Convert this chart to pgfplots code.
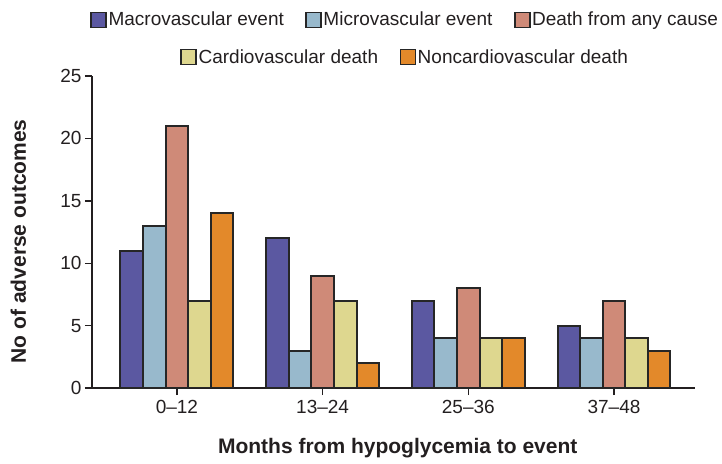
\documentclass[border=0pt]{standalone}
\usepackage{pgfplots}
\pgfplotsset{compat=1.18}
\usepackage{fontspec}
\setmainfont{Liberation Sans}
\definecolor{cmacro}{HTML}{5B58A1}
\definecolor{cmicro}{HTML}{98B9CC}
\definecolor{cdeath}{HTML}{CF8A78}
\definecolor{ccardio}{HTML}{DED78F}
\definecolor{cnon}{HTML}{E3892A}
\definecolor{cedge}{HTML}{262626}
\definecolor{ctext}{HTML}{231F20}
\pgfplotsset{
  common/.style={
    width=603bp, height=312bp, scale only axis,
    xmin=-0.583, xmax=3.556, ymin=0, ymax=25,
    ybar, bar width=0.155,
    legend image code/.code={\draw[#1, line width=1.6bp] (0bp,-7.5bp) rectangle (15bp,7.5bp);},
    legend style={draw=none, fill=none, font=\fontsize{19bp}{22bp}\selectfont, text=ctext,
      /tikz/every even column/.append style={column sep=20bp},
      /tikz/every odd column/.append style={column sep=0bp},
      nodes={inner sep=1.5bp}},
  },
  barst/.style={draw=cedge, line width=2bp, fill=#1},
}
\begin{document}
\begin{tikzpicture}
\path[use as bounding box] (-92bp,-76bp) rectangle (630bp,388bp);
\begin{axis}[common,
  axis x line*=bottom, axis y line*=left,
  axis line style={-, line width=1.4bp, color=ctext},
  tick style={line width=1.4bp, color=ctext},
  tick align=outside, major tick length=7bp,
  xtick={0,1,2,3}, xticklabels={0--12,13--24,25--36,37--48},
  ytick={0,5,10,15,20,25},
  /pgf/number format/assume math mode=true,
  ticklabel style={font=\fontsize{19bp}{22bp}\selectfont, text=ctext},
  xticklabel style={yshift=-2bp},
  xlabel={Months from hypoglycemia to event},
  ylabel={No of adverse outcomes},
  label style={font=\bfseries\fontsize{21bp}{25bp}\selectfont, text=ctext},
  xlabel style={at={(axis description cs:0.507,-0.192)}, anchor=center},
  ylabel style={at={(axis description cs:-0.122,0.47)}, anchor=center},
  legend columns=3,
  legend style={at={(axis description cs:0.519,1.18)}, anchor=center},
]
\addplot[barst=cmacro, bar shift=-0.31] coordinates {(0,11) (1,12) (2,7) (3,5)};
\addlegendentry{Macrovascular event}
\addplot[barst=cmicro, bar shift=-0.155] coordinates {(0,13) (1,3) (2,4) (3,4)};
\addlegendentry{Microvascular event}
\addplot[barst=cdeath, bar shift=0] coordinates {(0,21) (1,9) (2,8) (3,7)};
\addlegendentry{Death from any cause}
\end{axis}
\begin{axis}[common, hide axis,
  legend columns=2,
  legend style={at={(axis description cs:0.519,1.061)}, anchor=center},
]
\addplot[barst=ccardio, bar shift=0.155] coordinates {(0,7) (1,7) (2,4) (3,4)};
\addlegendentry{Cardiovascular death}
\addplot[barst=cnon, bar shift=0.31] coordinates {(0,14) (1,2) (2,4) (3,3)};
\addlegendentry{Noncardiovascular death}
\end{axis}
\end{tikzpicture}
\end{document}
